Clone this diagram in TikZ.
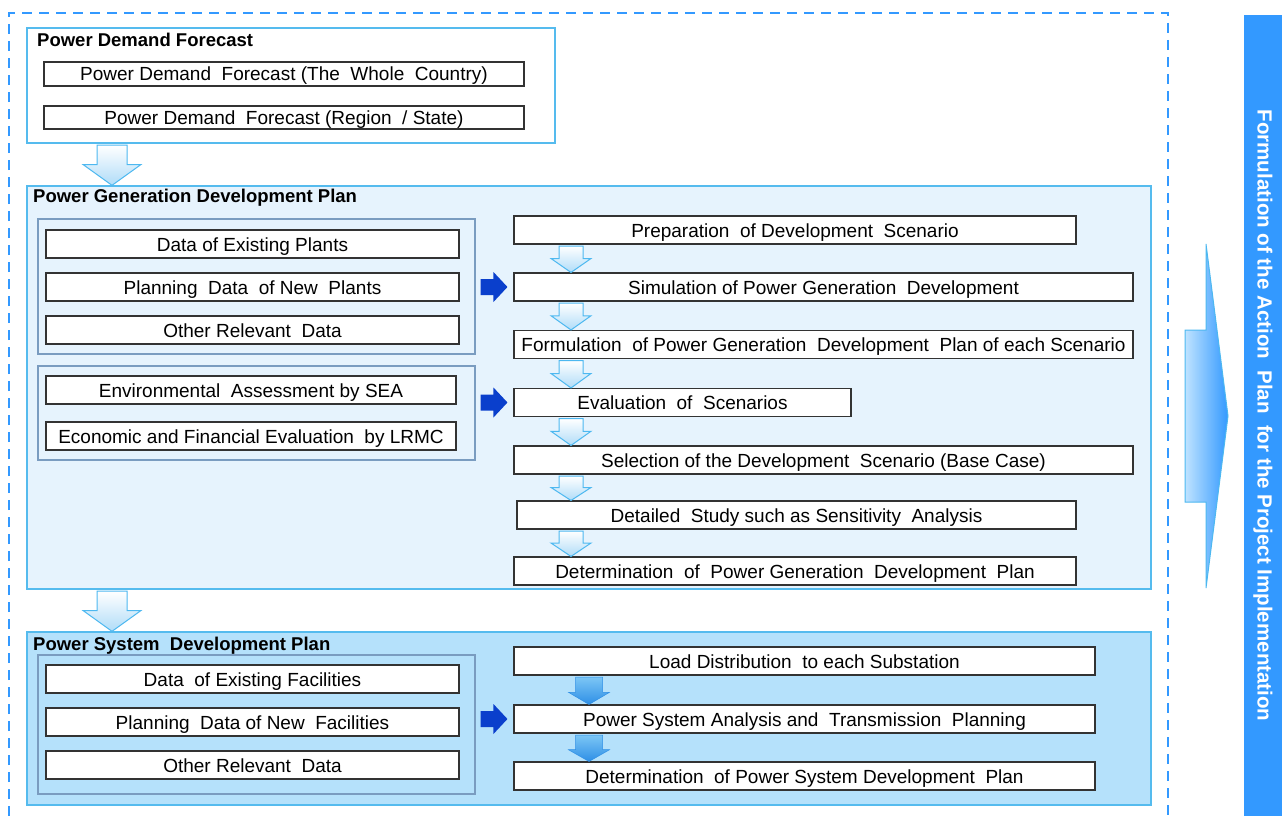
\documentclass[tikz,border=0pt]{standalone}
\usepackage{fontspec}
\setmainfont{Liberation Sans}
\usetikzlibrary{calc}
\definecolor{dashblue}{HTML}{3399FF}
\definecolor{barblue}{HTML}{3399FF}
\definecolor{contborder}{HTML}{55BBEE}
\definecolor{pgfill}{HTML}{E6F3FD}
\definecolor{psfill}{HTML}{B5E1FB}
\definecolor{grpborder}{HTML}{7A9CC0}
\definecolor{darkarrow}{HTML}{0A3FCC}
\definecolor{lightarrow}{HTML}{B0DCF8}
\definecolor{arrowedge}{HTML}{4DB8F0}
\definecolor{bigleft}{HTML}{BFE3FF}
\definecolor{psarrtop}{HTML}{7CC6F5}
\definecolor{psarrbot}{HTML}{2E8FE6}
\newcommand\downblk[7]{%
  \path[#1] let \p1=(#3.south), \p2=(#4.north), \n1={\y1-\y2} in
   ({(#2-#5)*1pt},{\y1-1.5pt}) -- ({(#2+#5)*1pt},{\y1-1.5pt}) -- ({(#2+#5)*1pt},{\y2+#7*\n1}) -- ({(#2+#6)*1pt},{\y2+#7*\n1}) -- ({#2*1pt},{\y2}) -- ({(#2-#6)*1pt},{\y2+#7*\n1}) -- ({(#2-#5)*1pt},{\y2+#7*\n1}) -- cycle;}
\newcommand\rightblk[2]{%
  \path[darkarr] let \p1=(#1.east), \p2=(#2.west) in
   ({\x1+5pt},{\y2+8pt}) -- ({\x2-20pt},{\y2+8pt}) -- ({\x2-20pt},{\y2+15pt}) -- ({\x2-6pt},{\y2}) -- ({\x2-20pt},{\y2-15pt}) -- ({\x2-20pt},{\y2-8pt}) -- ({\x1+5pt},{\y2-8pt}) -- cycle;}
\begin{document}
\begin{tikzpicture}[x=1pt,y=-1pt,
  every node/.style={font=\fontsize{19}{22}\selectfont},
  box/.style={draw=black!80, line width=1.1pt, fill=white, inner sep=0pt, minimum height=28, text height=17pt, text depth=3pt},
  cont/.style={draw=contborder, line width=1.3pt, inner sep=0pt},
  grp/.style={draw=grpborder, line width=1.3pt, inner sep=0pt},
  ttl/.style={anchor=west, inner sep=0pt, font=\fontsize{18.5}{21}\selectfont\bfseries},
  hollowarr/.style={draw=arrowedge, line width=1pt, top color=white, bottom color=lightarrow},
  psarr/.style={top color=psarrtop, bottom color=psarrbot, draw=psarrbot, line width=0.5pt},
  darkarr/.style={fill=darkarrow}]
\useasboundingbox (0,0) rectangle (1282,816);
% outer dashed frame
\draw[dashblue, line width=2.5pt, dash pattern=on 10pt off 7pt] (9,816) -- (9,13) -- (1168,13) -- (1168,816);
% right bar
\node[fill=barblue, rotate=-90, minimum width=801, minimum height=38, inner sep=0pt, text=white, font=\fontsize{20.5}{23}\selectfont\bfseries] (act) at (1263,415.5) {Formulation of the Action~ Plan~ for the Project Implementation};
% big right arrow
\path[draw=arrowedge, line width=1pt, left color=bigleft, right color=barblue] (1185,330) -- (1206,330) -- (1206,244) -- (1228,416) -- (1206,588) -- (1206,502) -- (1185,502) -- cycle;

% Power Demand Forecast
\node[cont, fill=white, minimum width=528, minimum height=115] (pdf) at (291,85.5) {};
\node[ttl] (pdft) at (37,40) {Power Demand Forecast};
\node[box, minimum width=480, minimum height=24] (d1) at (284,74) {Power Demand~ Forecast (The~ Whole~ Country)};
\node[box, minimum width=480, minimum height=23] (d2) at (284,117.5) {Power Demand~ Forecast (Region~ / State)};

% Power Generation Development Plan
\node[cont, fill=pgfill, minimum width=1124, minimum height=403] (pg) at (589,387.5) {};
\node[ttl] (pgt) at (33,198) {Power Generation Development Plan};
\node[grp, minimum width=437, minimum height=135] (g1) at (256.5,286.5) {};
\node[box, minimum width=413] (g1a) at (252.5,244) {Data of Existing Plants};
\node[box, minimum width=413] (g1b) at (252.5,287) {Planning~ Data~ of New~ Plants};
\node[box, minimum width=413] (g1c) at (252.5,330) {Other Relevant~ Data};
\node[grp, minimum width=437, minimum height=94] (g2) at (256.5,413) {};
\node[box, minimum width=410] (g2a) at (251,390) {Environmental~ Assessment by SEA};
\node[box, minimum width=410] (g2b) at (251,436) {Economic and Financial Evaluation~ by LRMC};
\node[box, minimum width=562] (r1) at (795,230) {Preparation~ of Development~ Scenario};
\node[box, minimum width=619] (r2) at (823.5,287) {Simulation of Power Generation~ Development};
\node[box, minimum width=619] (r3) at (823.5,344.5) {Formulation~ of Power Generation~ Development~ Plan of each Scenario};
\node[box, minimum width=337] (r4) at (682.5,402.5) {Evaluation~ of~ Scenarios};
\node[box, minimum width=619] (r5) at (823.5,460) {Selection of the Development~ Scenario (Base Case)};
\node[box, minimum width=559] (r6) at (796.5,515) {Detailed~ Study such as Sensitivity~ Analysis};
\node[box, minimum width=562] (r7) at (795,571) {Determination~ of~ Power Generation~ Development~ Plan};

% Power System Development Plan
\node[cont, fill=psfill, minimum width=1124, minimum height=173] (ps) at (589,718.5) {};
\node[ttl] (pst) at (33,646) {Power System~ Development Plan};
\node[grp, minimum width=437, minimum height=139] (g3) at (256.5,724.5) {};
\node[box, minimum width=413] (g3a) at (252.5,679) {Data~ of Existing Facilities};
\node[box, minimum width=413] (g3b) at (252.5,722) {Planning~ Data of New~ Facilities};
\node[box, minimum width=413] (g3c) at (252.5,765) {Other Relevant~ Data};
\node[box, minimum width=581] (s1) at (804.5,661) {Load Distribution~ to each Substation};
\node[box, minimum width=581] (s2) at (804.5,719) {Power System Analysis and~ Transmission~ Planning};
\node[box, minimum width=581] (s3) at (804.5,776) {Determination~ of Power System Development~ Plan};

% block arrows between sections
\downblk{hollowarr}{112}{pdf}{pg}{15}{29}{0.5}
\downblk{hollowarr}{112}{pg}{ps}{15}{29}{0.5}
% small arrows PGDP
\downblk{hollowarr}{571}{r1}{r2}{12}{20}{0.5}
\downblk{hollowarr}{571}{r2}{r3}{12}{20}{0.5}
\downblk{hollowarr}{571}{r3}{r4}{12}{20}{0.5}
\downblk{hollowarr}{571}{r4}{r5}{12}{20}{0.5}
\downblk{hollowarr}{571}{r5}{r6}{12}{20}{0.5}
\downblk{hollowarr}{571}{r6}{r7}{12}{20}{0.5}
% PSDP arrows
\downblk{psarr}{589}{s1}{s2}{13.5}{20.5}{0.42}
\downblk{psarr}{589}{s2}{s3}{13.5}{20.5}{0.42}
% dark arrows
\rightblk{g1}{r2}
\rightblk{g2}{r4}
\rightblk{g3}{s2}
\end{tikzpicture}
\end{document}
